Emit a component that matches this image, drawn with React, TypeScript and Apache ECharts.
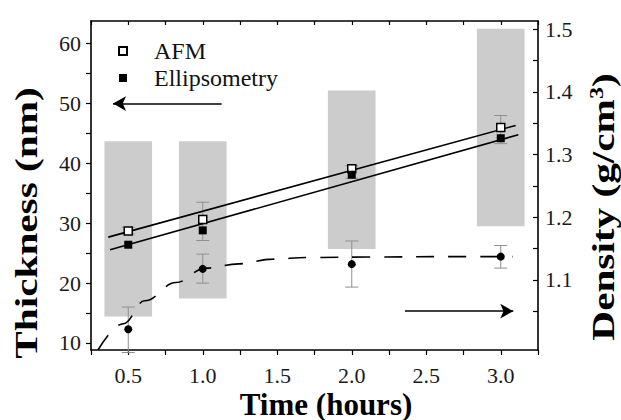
import React, { useEffect, useRef } from "react";
import * as echarts from "echarts";

// ---- data ----
const hours = [0.5, 1.0, 2.0, 3.0];
const afmThickness = [28.7, 30.6, 39.1, 46.0];
const ellipsThickness = [26.4, 28.8, 38.1, 44.2];
const density = [1.021, 1.1175, 1.125, 1.137];
const thicknessErrLow = [28.2, 27.1, 37.5, 43.3];
const thicknessErrHigh = [29.3, 33.5, 39.6, 48.0];
const densityErrLow = [0.984, 1.0947, 1.0884, 1.1187];
const densityErrHigh = [1.0565, 1.141, 1.162, 1.1547];
const densityRangeLow = [14.4, 17.4, 25.7, 29.5];
const densityRangeHigh = [43.7, 43.7, 52.2, 62.5];
const afmFitX = [0.366, 3.1];
const afmFitY = [27.67, 46.34];
const ellFitX = [0.378, 3.118];
const ellFitY = [25.55, 44.78];
const densityFitX = [0.297, 0.467, 0.61, 0.82, 1.02, 1.24, 1.47, 1.7, 2.2, 2.6, 3.08];
const densityFitY = [0.988, 1.03, 1.0665, 1.0957, 1.1187, 1.1255, 1.133, 1.1356, 1.1365, 1.137, 1.137];
const xTickLabels = [0.5, 1.0, 1.5, 2.0, 2.5, 3.0];
const leftTickLabels = [10, 20, 30, 40, 50, 60];
const leftTickValues = [10, 15, 20, 25, 30, 35, 40, 45, 50, 55, 60];
const rightTickLabels = [1.1, 1.2, 1.3, 1.4, 1.5];
const rightTickValues = [1.05, 1.1, 1.15, 1.2, 1.25, 1.3, 1.35, 1.4, 1.45, 1.5];
const thicknessArrow = { from: [1.127, 50], to: [0.398, 50] };
const densityArrow = { from: [2.357, 1.05], to: [3.084, 1.05] };

const FONT = "Liberation Serif, serif";
const BAR_W = 0.32;

export default function App() {
  const ref = useRef<HTMLDivElement>(null);
  useEffect(() => {
    if (!ref.current) return;
    const chart = echarts.init(ref.current, null, { renderer: "svg" });
    const zip = (a: number[], b: number[]) => a.map((v, i) => [v, b[i]]);
    const errRender = (params: any, api: any) => {
      const x = api.value(0);
      const top = api.coord([x, api.value(2)]);
      const bot = api.coord([x, api.value(1)]);
      const cw = 6.5;
      const st = { stroke: "#8f8f8f", lineWidth: 1 };
      return {
        type: "group",
        children: [
          { type: "line", shape: { x1: top[0], y1: top[1], x2: bot[0], y2: bot[1] }, style: st },
          { type: "line", shape: { x1: top[0] - cw, y1: top[1], x2: top[0] + cw, y2: top[1] }, style: st },
          { type: "line", shape: { x1: bot[0] - cw, y1: bot[1], x2: bot[0] + cw, y2: bot[1] }, style: st },
        ],
      };
    };
    const labelStyle = { fontFamily: FONT, fontSize: 22, color: "#1a1a1a" };
    const axisLine = { show: true, onZero: false, lineStyle: { color: "#000", width: 1.6 } };
    const tickLine = { color: "#000", width: 1.2 };
    const isLabel = (arr: number[], v: number) => arr.some((t) => Math.abs(t - v) < 1e-6);

    const option: any = {
      animation: false,
      backgroundColor: "#fff",
      textStyle: { fontFamily: FONT },
      grid: { left: 91, right: 83, top: 21, bottom: 70, containLabel: false, outerBoundsMode: "none" },
      legend: {
        data: ["AFM", "Ellipsometry"],
        orient: "vertical",
        left: 113,
        top: 34,
        itemWidth: 8,
        itemHeight: 8,
        itemGap: 3,
        textStyle: { fontFamily: FONT, fontSize: 24, color: "#111", padding: [0, 0, 0, 22] },
      },
      xAxis: [
        {
          type: "value",
          min: 0.25,
          max: 3.25,
          interval: 0.25,
          position: "bottom",
          axisLine,
          axisTick: { show: true, inside: false, length: 5, lineStyle: tickLine },
          axisLabel: {
            ...labelStyle,
            margin: 14,
            formatter: (v: number) => (isLabel(xTickLabels, v) ? v.toFixed(1) : ""),
          },
          splitLine: { show: false },
        },
        {
          type: "value",
          min: 0.25,
          max: 3.25,
          interval: 0.25,
          position: "top",
          axisLine,
          axisTick: { show: true, inside: true, length: 4, lineStyle: tickLine },
          axisLabel: { show: false },
          splitLine: { show: false },
        },
      ],
      yAxis: [
        {
          type: "value",
          min: 8.8,
          max: 63.8,
          position: "left",
          axisLine,
          axisTick: { show: true, inside: false, length: 5, lineStyle: tickLine, customValues: leftTickValues },
          axisLabel: { ...labelStyle, margin: 10, customValues: leftTickLabels },
          splitLine: { show: false },
        },
        {
          type: "value",
          min: 0.988,
          max: 1.513,
          position: "right",
          axisLine,
          axisTick: { show: true, inside: true, length: 5, lineStyle: tickLine, customValues: rightTickValues },
          axisLabel: {
            ...labelStyle,
            margin: 7,
            customValues: rightTickLabels,
            formatter: (v: number) => v.toFixed(1),
          },
          splitLine: { show: false },
        },
      ],
      series: [
        {
          type: "custom",
          name: "range",
          xAxisIndex: 0,
          yAxisIndex: 0,
          z: 1,
          silent: true,
          encode: { x: 0, y: [1, 2] },
          data: hours.map((h, i) => [h, densityRangeLow[i], densityRangeHigh[i]]),
          renderItem: (params: any, api: any) => {
            const x = api.value(0);
            const p1 = api.coord([x, api.value(2)]);
            const p2 = api.coord([x, api.value(1)]);
            const w = api.size([BAR_W, 0])[0];
            return {
              type: "rect",
              shape: { x: p1[0] - w / 2, y: p1[1], width: w, height: p2[1] - p1[1] },
              style: { fill: "#cccccc" },
            };
          },
        },
        {
          type: "custom",
          name: "thicknessErr",
          xAxisIndex: 0,
          yAxisIndex: 0,
          z: 2,
          silent: true,
          encode: { x: 0, y: [1, 2] },
          data: hours.map((h, i) => [h, thicknessErrLow[i], thicknessErrHigh[i]]),
          renderItem: errRender,
        },
        {
          type: "custom",
          name: "densityErr",
          xAxisIndex: 0,
          yAxisIndex: 1,
          z: 2,
          silent: true,
          encode: { x: 0, y: [1, 2] },
          data: hours.map((h, i) => [h, densityErrLow[i], densityErrHigh[i]]),
          renderItem: errRender,
        },
        {
          type: "line",
          name: "AFM fit",
          z: 3,
          data: zip(afmFitX, afmFitY),
          showSymbol: false,
          symbol: "none",
          lineStyle: { color: "#000", width: 1.6 },
          markLine: {
            silent: true,
            symbol: ["none", "arrow"],
            symbolSize: [11, 13],
            label: { show: false },
            lineStyle: { color: "#000", width: 1.6, type: "solid" },
            data: [[{ coord: thicknessArrow.from }, { coord: thicknessArrow.to }]],
          },
        },
        {
          type: "line",
          name: "Ellipsometry fit",
          z: 3,
          data: zip(ellFitX, ellFitY),
          showSymbol: false,
          symbol: "none",
          lineStyle: { color: "#000", width: 1.6 },
        },
        {
          type: "line",
          name: "Density fit",
          yAxisIndex: 1,
          z: 3,
          data: zip(densityFitX, densityFitY),
          smooth: 0.4,
          smoothMonotone: "x",
          showSymbol: false,
          symbol: "none",
          lineStyle: { color: "#000", width: 1.6, type: [18, 14] },
          markLine: {
            silent: true,
            symbol: ["none", "arrow"],
            symbolSize: [11, 13],
            label: { show: false },
            lineStyle: { color: "#000", width: 1.6, type: "solid" },
            data: [[{ coord: densityArrow.from }, { coord: densityArrow.to }]],
          },
        },
        {
          type: "scatter",
          name: "AFM",
          z: 5,
          symbol: "rect",
          symbolSize: 8,
          data: zip(hours, afmThickness),
          itemStyle: { color: "#fff", borderColor: "#000", borderWidth: 1.5, opacity: 1 },
        },
        {
          type: "scatter",
          name: "Ellipsometry",
          z: 5,
          symbol: "rect",
          symbolSize: 8,
          data: zip(hours, ellipsThickness),
          itemStyle: { color: "#000", opacity: 1 },
        },
        {
          type: "scatter",
          name: "Density",
          yAxisIndex: 1,
          z: 5,
          symbol: "circle",
          symbolSize: 8,
          data: zip(hours, density),
          itemStyle: { color: "#000", opacity: 1 },
        },
      ],
      graphic: [
        {
          type: "text",
          x: 326,
          y: 404,
          style: {
            text: "Time (hours)",
            fontFamily: FONT,
            fontWeight: "bold",
            fontSize: 31,
            fill: "#000",
            align: "center",
            verticalAlign: "middle",
          },
        },
        {
          type: "text",
          x: 27,
          y: 223,
          rotation: Math.PI / 2,
          scaleX: 1.33,
          style: {
            text: "Thickness (nm)",
            fontFamily: FONT,
            fontWeight: "bold",
            fontSize: 31,
            fill: "#000",
            align: "center",
            verticalAlign: "middle",
          },
        },
        {
          type: "text",
          x: 604,
          y: 207,
          rotation: Math.PI / 2,
          scaleX: 1.33,
          style: {
            text: "{n|Density (g/cm}{s|3}{n|)}",
            fontFamily: FONT,
            fontWeight: "bold",
            fontSize: 31,
            fill: "#000",
            align: "center",
            verticalAlign: "middle",
            rich: {
              n: { fontFamily: FONT, fontWeight: "bold", fontSize: 31, fill: "#000", color: "#000" },
              s: { fontFamily: FONT, fontWeight: "bold", fontSize: 18, fill: "#000", color: "#000", verticalAlign: "top" },
            },
          },
        },
      ],
    };
    chart.setOption(option);
    return () => chart.dispose();
  }, []);
  return <div ref={ref} style={{ position: "fixed", left: 0, top: 0, width: 621, height: 420 }} />;
}
